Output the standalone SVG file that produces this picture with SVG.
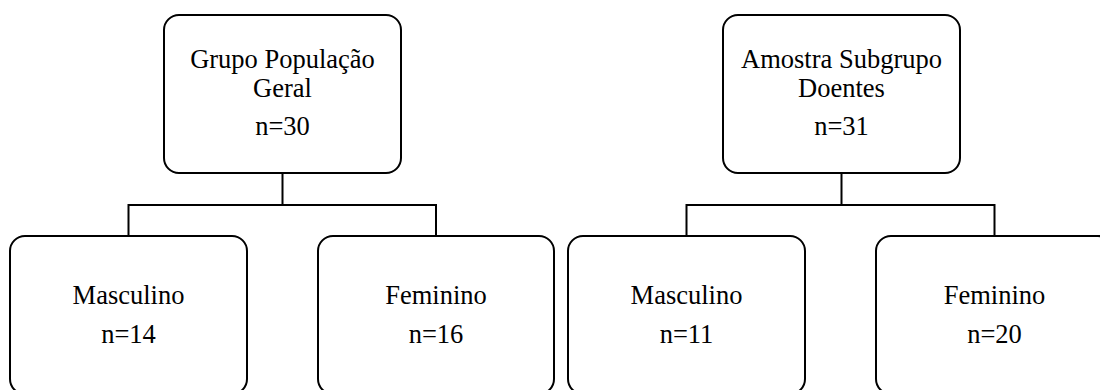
<svg xmlns="http://www.w3.org/2000/svg" width="1100" height="390" viewBox="0 0 1100 390">
<style>
.box{fill:#fff;stroke:#000;stroke-width:2}
.lbl{font-family:Tinos,'Liberation Serif','Times New Roman',serif;font-size:26.5px;fill:#000;text-anchor:middle}
.con{fill:none;stroke:#000;stroke-width:2}
</style>
<rect width="1100" height="390" fill="#fff"/>
<g id="connectors">
<path class="con" d="M282.5 173 V205 M128.5 236 V205 H436 V236"/>
<path class="con" d="M841.5 173 V205 M686.5 236 V205 H994.5 V236"/>
</g>
<g id="geral">
<rect class="box" x="164" y="15" width="237" height="158" rx="15"/>
<text class="lbl" x="282.5" y="68">Grupo População</text>
<text class="lbl" x="282.5" y="97">Geral</text>
<text class="lbl" x="282.5" y="135">n=30</text>
</g>
<g id="geral-masc">
<rect class="box" x="10" y="236" width="237" height="158" rx="15"/>
<text class="lbl" x="128.5" y="304">Masculino</text>
<text class="lbl" x="128.5" y="343">n=14</text>
</g>
<g id="geral-fem">
<rect class="box" x="318" y="236" width="236" height="158" rx="15"/>
<text class="lbl" x="436" y="304">Feminino</text>
<text class="lbl" x="436" y="343">n=16</text>
</g>
<g id="doentes">
<rect class="box" x="723" y="15" width="237" height="158" rx="15"/>
<text class="lbl" x="841.5" y="68">Amostra Subgrupo</text>
<text class="lbl" x="841.5" y="97">Doentes</text>
<text class="lbl" x="841.5" y="135">n=31</text>
</g>
<g id="doentes-masc">
<rect class="box" x="568" y="236" width="237" height="158" rx="15"/>
<text class="lbl" x="686.5" y="304">Masculino</text>
<text class="lbl" x="686.5" y="343">n=11</text>
</g>
<g id="doentes-fem">
<rect class="box" x="876" y="236" width="237" height="158" rx="15"/>
<text class="lbl" x="994.5" y="304">Feminino</text>
<text class="lbl" x="994.5" y="343">n=20</text>
</g>
</svg>
